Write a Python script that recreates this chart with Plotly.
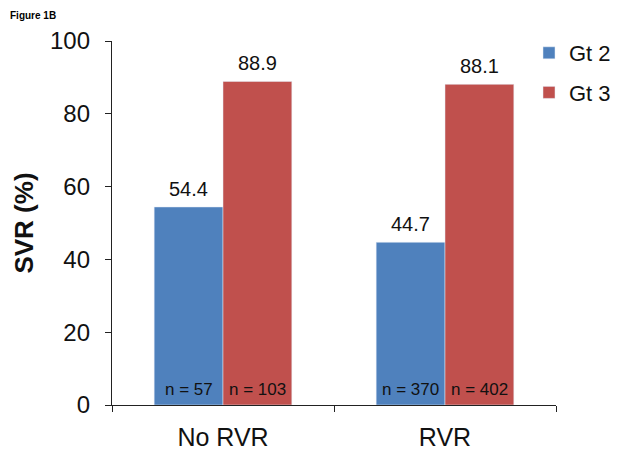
import plotly.graph_objects as go

groups = ['No RVR', 'RVR']
gt2_svr = [54.4, 44.7]
gt3_svr = [88.9, 88.1]
gt2_n = [57, 370]
gt3_n = [103, 402]

blue = '#4F81BD'
red = '#C0504D'
font = 'Liberation Sans, Arial, sans-serif'
bargap = 0.38

fig = go.Figure()
fig.add_trace(go.Bar(x=groups, y=gt2_svr, name='Gt 2', marker_color=blue, legendgroup='a'))
fig.add_trace(go.Bar(x=groups, y=gt3_svr, name='Gt 3', marker_color=red, legendgroup='b'))

# value labels above the bars, n labels at the base
w = (1 - bargap) / 2
for i in range(len(groups)):
    for off, v, n in [(-w / 2, gt2_svr[i], gt2_n[i]), (w / 2, gt3_svr[i], gt3_n[i])]:
        fig.add_annotation(x=i + off, y=v, text='%.1f' % v, showarrow=False,
                           yanchor='bottom', yshift=5,
                           font=dict(size=20, color='#111', family=font))
        fig.add_annotation(x=i + off, y=0, text='n = %d' % n, showarrow=False,
                           yanchor='bottom', yshift=4,
                           font=dict(size=17, color='#111', family=font))

# page has an 8px body margin, figure sized to fill the rest
W, H = 621, 450
PW, PH = 444, 364
fig.add_annotation(x=-104 / PW, y=1 + 33 / PH, xref='paper', yref='paper',
                   xanchor='left', yanchor='top', showarrow=False,
                   text='<b>Figure 1B</b>', font=dict(size=10, color='black', family=font))

fig.update_layout(
    width=W, height=H,
    margin=dict(l=104, r=73, t=33, b=53),
    plot_bgcolor='white', paper_bgcolor='white',
    barmode='group', bargap=bargap, bargroupgap=0,
    font=dict(family=font, color='#111'),
    legend=dict(x=(529 - 112) / PW, y=1 + (41 - 32) / PH,
                xanchor='left', yanchor='top',
                font=dict(size=22, family=font), tracegroupgap=8,
                itemwidth=30, bgcolor='rgba(0,0,0,0)'),
    showlegend=True,
)
fig.update_yaxes(range=[0, 100], dtick=20, showgrid=False, zeroline=False,
                 showline=True, linecolor='#222', linewidth=1.3, automargin=False,
                 ticks='outside', ticklen=6, tickcolor='#222', ticklabelstandoff=10,
                 tickfont=dict(size=24, family=font, color='#111'),
                 title=dict(text='<b>SVR (%)</b>', font=dict(size=26, family=font, color='#111'),
                            standoff=8))
fig.update_xaxes(showgrid=False, showline=True, linecolor='#222', linewidth=1.3,
                 automargin=False,
                 ticks='outside', ticklen=6, tickcolor='#222', tickson='boundaries',
                 ticklabelstandoff=10,
                 tickfont=dict(size=25, family=font, color='#111'))

fig.write_html('out.html')
